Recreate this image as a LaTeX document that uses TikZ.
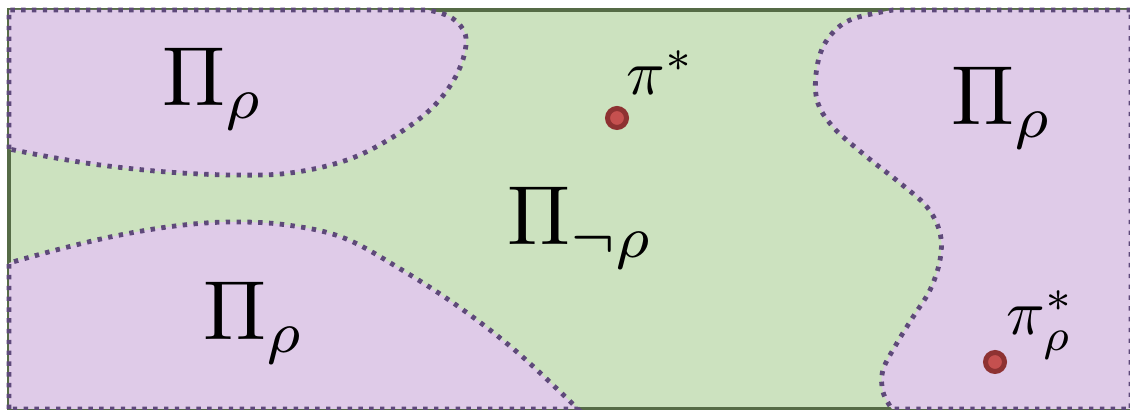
\documentclass[tikz,border=0pt]{standalone}
\usepackage{amsmath,amssymb}
\usepackage{tikz}
\usetikzlibrary{positioning}

\definecolor{feasgreen}{HTML}{CCE2BF}
\definecolor{framegreen}{HTML}{556B46}
\definecolor{regionfill}{HTML}{DFCBE8}
\definecolor{regionline}{HTML}{5E497A}
\definecolor{dotring}{HTML}{8E3232}
\definecolor{dotcore}{HTML}{C5504F}

\begin{document}
\begin{tikzpicture}[x=0.5pt, y=-0.5pt,
    region/.style={fill=regionfill, draw=regionline, line width=2.4pt,
      dash pattern=on 2.2pt off 3.2pt},
    biglabel/.style={scale=4.2, inner sep=0pt, anchor=base west},
    ptlabel/.style={scale=3.2, inner sep=0pt, anchor=base west},
    optpt/.style={circle, fill=dotcore, draw=dotring, line width=2.5pt,
      minimum size=9.5pt, inner sep=0pt}]
    \useasboundingbox (0,0) rectangle (1130,410);
    \clip (0,0) rectangle (1130,410);

    % Policy space
    \draw[fill=feasgreen, draw=framegreen, line width=2.4pt]
      (9,10) rectangle (1131,409);

    % Region top left
    \draw[region] (9,149) -- (9,10) -- (428,10)
      -- plot[smooth, tension=0.6] coordinates {(428,10) (452,18) (466,38)
        (458,72) (433,107) (393,137) (347,160) (290,173) (233,175)
        (167,172) (100,165) (50,157) (9,149)} -- cycle;

    % Region bottom left
    \draw[region] (9,409) -- (9,263)
      -- plot[smooth, tension=0.6] coordinates {(9,263) (60,249) (115,236)
        (175,226) (230,222) (287,225) (344,238) (402,270) (459,307)
        (517,352) (578,409)} -- cycle;

    % Region right
    \draw[region] (1131,10) -- (893,10)
      -- plot[smooth, tension=0.6] coordinates {(893,10) (850,20) (827,40)
        (817,67) (817,100) (833,127) (867,157) (900,183) (927,207)
        (940,233) (940,260) (930,290) (913,317) (897,343) (883,370)
        (883,392) (892,409)} -- (1131,409) -- cycle;

    % Region labels
    \node[biglabel] (rhotl) at (161,106) {$\Pi_\rho$};
    \node[biglabel] (rhobl) at (202,340) {$\Pi_\rho$};
    \node[biglabel] (rhor) at (950,125) {$\Pi_\rho$};
    \node[biglabel] (notrho) at (506,245) {$\Pi_{\neg\rho}$};

    % Optimal policies
    \node[optpt] (opt) at (617,118) {};
    \node[ptlabel] (optlab) at (625,95) {$\pi^*$};
    \node[optpt] (optrho) at (995,362) {};
    \node[ptlabel] (optrholab) at (1005,335) {$\pi^*_\rho$};
\end{tikzpicture}
\end{document}
